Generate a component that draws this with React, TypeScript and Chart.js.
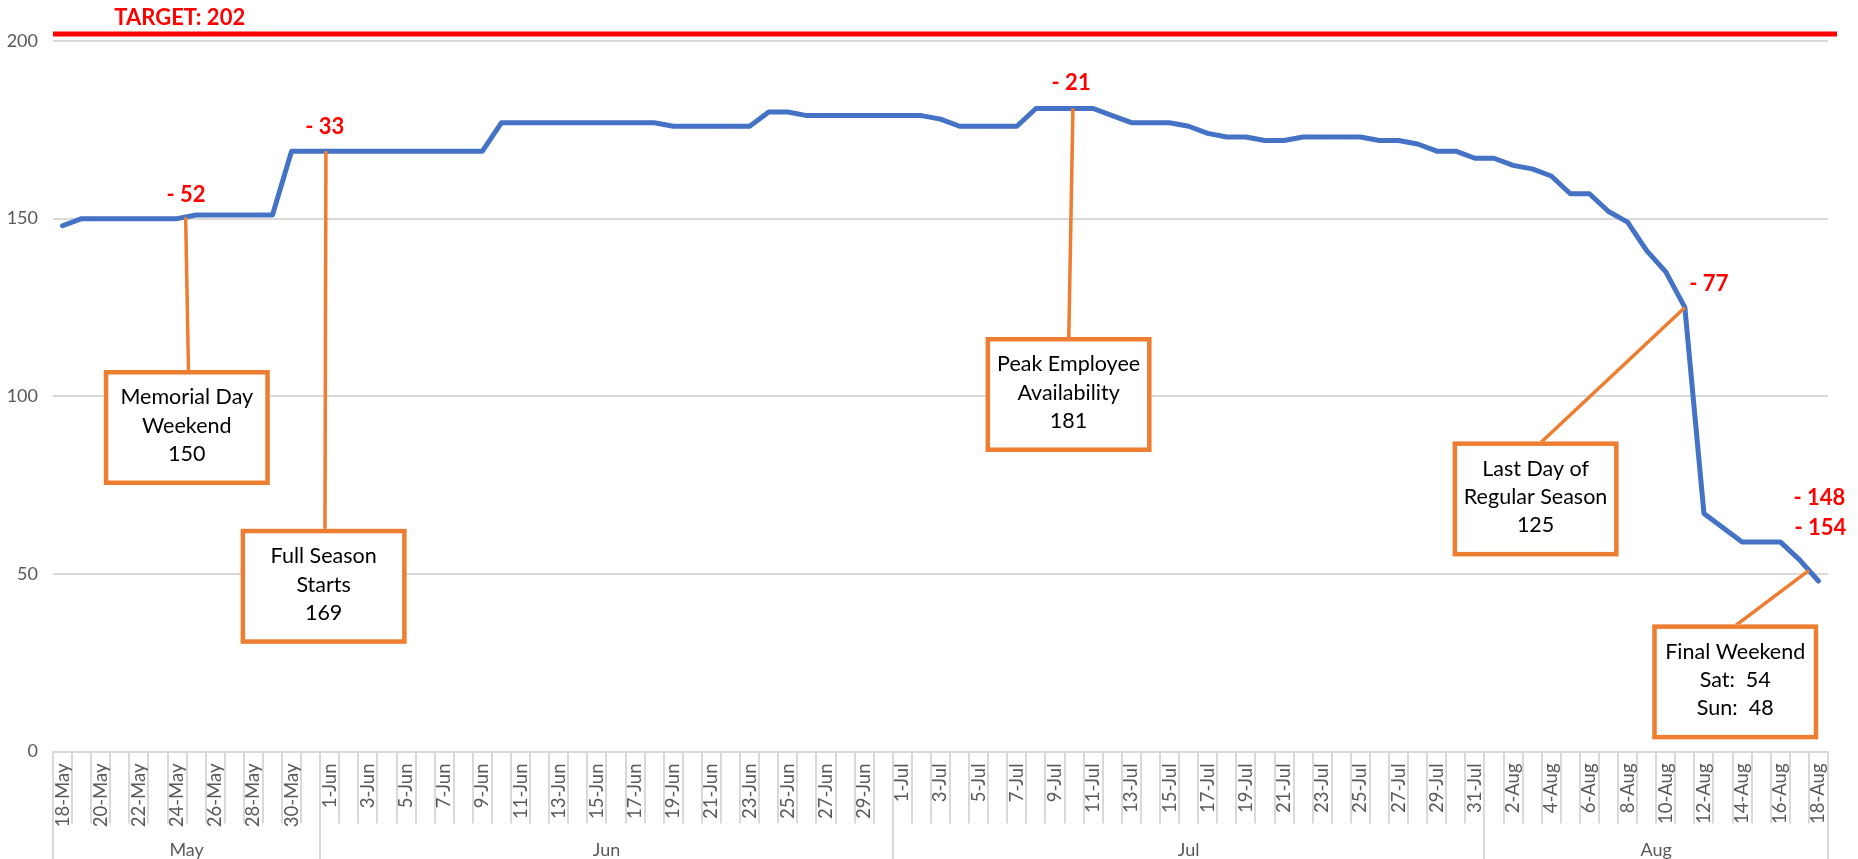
import React, { useEffect, useRef } from "react";
import { Chart, registerables } from "chart.js";

Chart.register(...registerables);

// ---------- DATA ----------
const DATES: string[] = [
  "18-May", "19-May", "20-May", "21-May", "22-May", "23-May", "24-May", "25-May", "26-May", "27-May",
  "28-May", "29-May", "30-May", "31-May",
  "1-Jun", "2-Jun", "3-Jun", "4-Jun", "5-Jun", "6-Jun", "7-Jun", "8-Jun", "9-Jun", "10-Jun",
  "11-Jun", "12-Jun", "13-Jun", "14-Jun", "15-Jun", "16-Jun", "17-Jun", "18-Jun", "19-Jun", "20-Jun",
  "21-Jun", "22-Jun", "23-Jun", "24-Jun", "25-Jun", "26-Jun", "27-Jun", "28-Jun", "29-Jun", "30-Jun",
  "1-Jul", "2-Jul", "3-Jul", "4-Jul", "5-Jul", "6-Jul", "7-Jul", "8-Jul", "9-Jul", "10-Jul",
  "11-Jul", "12-Jul", "13-Jul", "14-Jul", "15-Jul", "16-Jul", "17-Jul", "18-Jul", "19-Jul", "20-Jul",
  "21-Jul", "22-Jul", "23-Jul", "24-Jul", "25-Jul", "26-Jul", "27-Jul", "28-Jul", "29-Jul", "30-Jul",
  "31-Jul",
  "1-Aug", "2-Aug", "3-Aug", "4-Aug", "5-Aug", "6-Aug", "7-Aug", "8-Aug", "9-Aug", "10-Aug",
  "11-Aug", "12-Aug", "13-Aug", "14-Aug", "15-Aug", "16-Aug", "17-Aug", "18-Aug",
];

const MONTH_NAMES: string[] = ["May", "Jun", "Jul", "Aug"];

const STAFF: number[] = [
  148, 150, 150, 150, 150, 150, 150, 151, 151, 151,
  151, 151, 169, 169,
  169, 169, 169, 169, 169, 169, 169, 169, 169, 177,
  177, 177, 177, 177, 177, 177, 177, 177, 176, 176,
  176, 176, 176, 180, 180, 179, 179, 179, 179, 179,
  179, 179, 178, 176, 176, 176, 176, 181, 181, 181,
  181, 179, 177, 177, 177, 176, 174, 173, 173, 172,
  172, 173, 173, 173, 173, 172, 172, 171, 169, 169,
  167,
  167, 165, 164, 162, 157, 157, 152, 149, 141, 135,
  125, 67, 63, 59, 59, 59, 54, 48,
];

const TARGET = 202;
const Y_TICKS: number[] = [0, 50, 100, 150, 200];

// Callout texts
const CALLOUT_TEXTS: string[][] = [
  ["Memorial Day", "Weekend", "150"],
  ["Full Season", "Starts", "169"],
  ["Peak Employee", "Availability", "181"],
  ["Last Day of", "Regular Season", "125"],
  ["Final Weekend", "Sat:  54", "Sun:  48"],
];
// Indices whose gap to target is labelled in red
const GAP_INDICES: number[] = [6, 14, 53, 85, 91, 92];

// ---------- LAYOUT (positions / styles, not data) ----------
const GAP_OFFSETS: { dx: number; dy: number }[] = [
  { dx: 9, dy: -24 },
  { dx: -5, dy: -24 },
  { dx: -3, dy: -26 },
  { dx: 24, dy: -24 },
  { dx: 20, dy: -62 },
  { dx: 2, dy: -53 },
];
const CALLOUT_LAYOUT = [
  { cx: 6.51, cy: 91.2, sx: 6.45, sy: 150.4, ex: 6.6 },
  { cx: 13.68, cy: 46.5, sx: 13.8, sy: 169, ex: 13.75 },
  { cx: 52.71, cy: 100.5, sx: 52.94, sy: 181, ex: 52.72 },
  { cx: 77.18, cy: 71.1, sx: 85, sy: 125, ex: 77.4 },
  { cx: 87.64, cy: 19.6, sx: 91.5, sy: 51, ex: 87.6 },
];
const BOX_W = 166;
const BOX_H = 115;

const FONT = "Lato, 'Open Sans', sans-serif";
const ORANGE = "#ED7D31";
const GRID = "#D9D9D9";
const AXIS_TEXT = "#595959";

const overlayPlugin = {
  id: "overlay",
  afterDatasetsDraw(chart: any) {
    const { ctx, chartArea } = chart;
    const x = chart.scales.x;
    const y = chart.scales.y;
    ctx.save();

    // month group separators and labels
    const monthOf = (s: string) => s.split("-")[1];
    const groups: { start: number; end: number; name: string }[] = [];
    DATES.forEach((d, i) => {
      const m = monthOf(d);
      if (!groups.length || groups[groups.length - 1].name !== m) groups.push({ start: i, end: i, name: m });
      else groups[groups.length - 1].end = i;
    });
    ctx.strokeStyle = GRID;
    ctx.lineWidth = 2;
    const bounds = groups.map((g) => g.start - 0.5).concat([DATES.length - 0.5]);
    bounds.forEach((b) => {
      const px = Math.round(x.getPixelForValue(b));
      ctx.beginPath();
      ctx.moveTo(px, chartArea.bottom);
      ctx.lineTo(px, chart.height);
      ctx.stroke();
    });
    ctx.fillStyle = AXIS_TEXT;
    ctx.font = `18px ${FONT}`;
    ctx.textAlign = "center";
    ctx.textBaseline = "middle";
    groups.forEach((g, gi) => {
      const cx = x.getPixelForValue((g.start + g.end) / 2);
      ctx.fillText(MONTH_NAMES[gi] ?? g.name, cx, 850);
    });

    // target line
    const ty = y.getPixelForValue(TARGET);
    ctx.strokeStyle = "#FF0000";
    ctx.lineWidth = 5;
    ctx.beginPath();
    ctx.moveTo(chartArea.left, ty);
    ctx.lineTo(chartArea.right + 9, ty);
    ctx.stroke();
    ctx.fillStyle = "#FF0000";
    ctx.font = `bold 22px ${FONT}`;
    ctx.textAlign = "center";
    ctx.fillText(`TARGET: ${TARGET}`, x.getPixelForValue(6.14), ty - 16);

    // gap labels
    GAP_INDICES.forEach((idx, k) => {
      const px = x.getPixelForValue(idx);
      const py = y.getPixelForValue(STAFF[idx]);
      const off = GAP_OFFSETS[k];
      ctx.fillText(`- ${TARGET - STAFF[idx]}`, px + off.dx, py + off.dy);
    });

    // callouts
    CALLOUT_LAYOUT.forEach((c, k) => {
      const bx = x.getPixelForValue(c.cx);
      const by = y.getPixelForValue(c.cy);
      const left = bx - BOX_W / 2;
      const top = by - BOX_H / 2;
      ctx.strokeStyle = ORANGE;
      ctx.lineWidth = 3.5;
      ctx.beginPath();
      ctx.moveTo(x.getPixelForValue(c.sx), y.getPixelForValue(c.sy));
      ctx.lineTo(x.getPixelForValue(c.ex), top + 2);
      ctx.stroke();
      ctx.fillStyle = "#FFFFFF";
      ctx.fillRect(left, top, BOX_W, BOX_H);
      ctx.lineWidth = 4.5;
      ctx.strokeRect(left + 2.25, top + 2.25, BOX_W - 4.5, BOX_H - 4.5);
      ctx.fillStyle = "#000000";
      ctx.font = `21.5px ${FONT}`;
      ctx.textAlign = "center";
      ctx.textBaseline = "middle";
      CALLOUT_TEXTS[k].forEach((line, li) => {
        ctx.fillText(line, bx, by - 30 + li * 28.3);
      });
    });

    ctx.restore();
  },
};

export default function App() {
  const canvasRef = useRef<HTMLCanvasElement | null>(null);

  useEffect(() => {
    if (!canvasRef.current) return;
    const chart = new Chart(canvasRef.current, {
      type: "line",
      data: {
        labels: DATES,
        datasets: [
          {
            label: "Employees",
            data: STAFF,
            borderColor: "#4472C4",
            backgroundColor: "#4472C4",
            borderWidth: 5,
            pointRadius: 0,
            pointHoverRadius: 0,
            tension: 0,
            borderJoinStyle: "round",
            borderCapStyle: "round",
          },
        ],
      },
      options: {
        animation: false,
        responsive: false,
        layout: { padding: { top: 41, right: 30, left: 0, bottom: 0 } },
        plugins: { legend: { display: false }, tooltip: { enabled: false } },
        scales: {
          x: {
            type: "category",
            offset: true,
            grid: {
              offset: true,
              drawOnChartArea: false,
              drawTicks: true,
              tickLength: 72,
              color: GRID,
              lineWidth: 2,
            },
            border: { display: true, color: GRID, width: 2 },
            ticks: {
              autoSkip: false,
              maxRotation: 90,
              minRotation: 90,
              padding: -60,
              color: AXIS_TEXT,
              font: { family: FONT, size: 18.5 },
              callback: (_v: any, i: number) => (i % 2 === 0 ? DATES[i] : ""),
            },
            afterFit: (s: any) => {
              s.height = 107.5;
            },
          },
          y: {
            min: 0,
            max: 200,
            afterBuildTicks: (s: any) => {
              s.ticks = Y_TICKS.map((v) => ({ value: v }));
            },
            grid: { color: GRID, lineWidth: 2, drawTicks: false },
            border: { display: false },
            ticks: {
              padding: 15,
              color: AXIS_TEXT,
              font: { family: FONT, size: 18 },
            },
            afterFit: (s: any) => {
              s.width = 53;
            },
          },
        },
      },
      plugins: [overlayPlugin],
    });
    return () => chart.destroy();
  }, []);

  return (
    <div style={{ position: "fixed", left: 0, top: 0, width: 1858, height: 859, background: "#fff" }}>
      <canvas ref={canvasRef} width={1858} height={859} style={{ display: "block" }} />
    </div>
  );
}
